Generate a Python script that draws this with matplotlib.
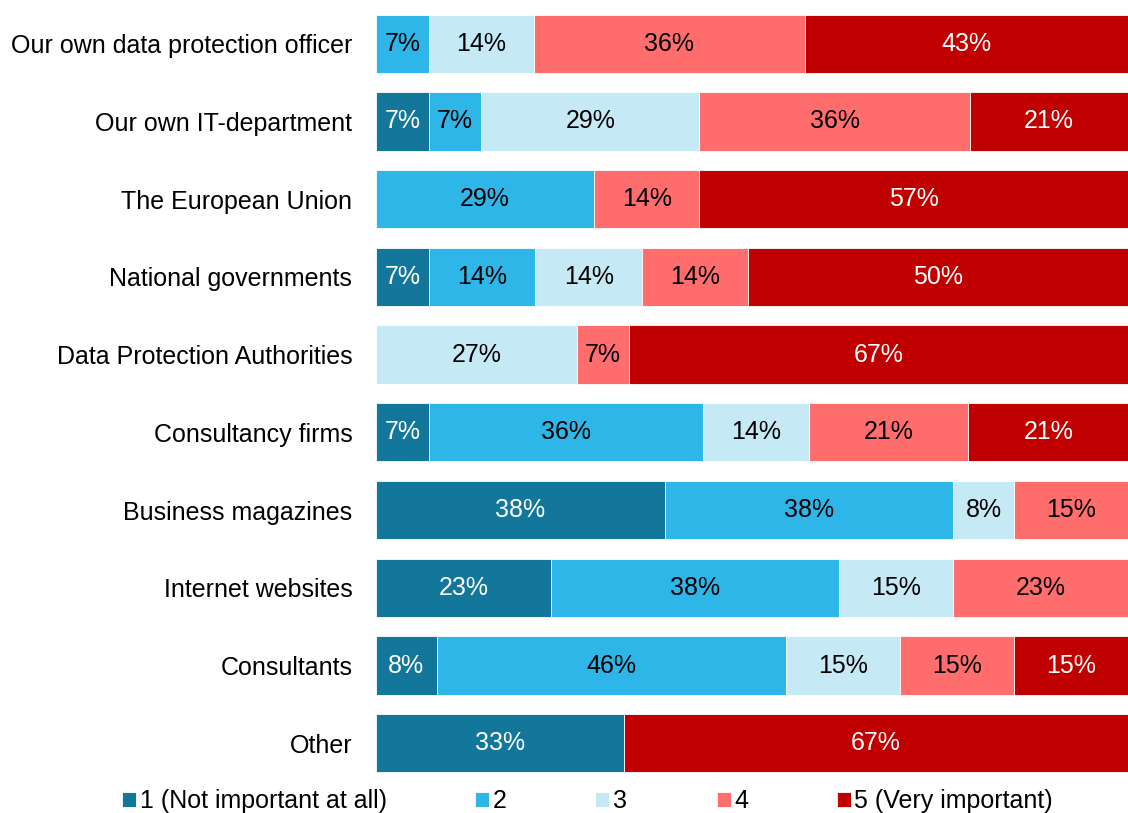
import matplotlib
matplotlib.use("Agg")
import matplotlib.pyplot as plt
import numpy as np

plt.rcParams['font.family'] = ['Liberation Sans', 'DejaVu Sans']

# sources, top to bottom
sources = [
    "Our own data protection officer",
    "Our own IT-department",
    "The European Union",
    "National governments",
    "Data Protection Authorities",
    "Consultancy firms",
    "Business magazines",
    "Internet websites",
    "Consultants",
    "Other",
]

# share of answers per importance level (%)
lvl1 = [0, 7, 0, 7, 0, 7, 38, 23, 8, 33]
lvl2 = [7, 7, 29, 14, 0, 36, 38, 38, 46, 0]
lvl3 = [14, 29, 0, 14, 27, 14, 8, 15, 15, 0]
lvl4 = [36, 36, 14, 14, 7, 21, 15, 23, 15, 0]
lvl5 = [43, 21, 57, 50, 67, 21, 0, 0, 15, 67]

levels = ["1 (Not important at all)", "2", "3", "4", "5 (Very important)"]
colors = ["#13779B", "#2EB6E8", "#C6E9F6", "#FF6D6D", "#C00000"]
text_colors = ["white", "black", "black", "black", "white"]

data = np.array([lvl1, lvl2, lvl3, lvl4, lvl5], dtype=float)
# rounded shares don't always add to 100, so scale each row to full width
shares = data / data.sum(axis=0) * 100

fig = plt.figure(figsize=(11.28, 8.13), dpi=100)
ax = fig.add_axes([0.3333, 0.038, 0.6667, 0.956])

y = np.arange(len(sources))
left = np.zeros(len(sources))
bars = []
for i in range(len(levels)):
    b = ax.barh(y, shares[i], left=left, height=0.75, color=colors[i],
                edgecolor="white", linewidth=0.6, label=levels[i])
    bars.append(b)
    for j, v in enumerate(data[i]):
        if v > 0:
            ax.text(left[j] + shares[i][j] / 2, y[j], f"{v:.0f}%", ha="center",
                    va="center", fontsize=18, color=text_colors[i])
    left += shares[i]

ax.set_xlim(0, 100)
ax.set_ylim(len(sources) - 0.5, -0.5)
ax.set_yticks(y)
ax.set_yticklabels(sources, fontsize=18)
ax.tick_params(axis="y", length=0, pad=17)
ax.set_xticks([])
for s in ax.spines.values():
    s.set_visible(False)

# legend entries laid out along the bottom
legend_x = [122, 475, 595, 717, 837]
for i in range(len(levels)):
    fig.legend([bars[i]], [levels[i]], loc="center left",
               bbox_to_anchor=(legend_x[i] / 1128, 1 - 801 / 813),
               frameon=False, fontsize=18, handlelength=0.55, handleheight=0.55,
               handletextpad=0.15, borderpad=0, borderaxespad=0)

fig.savefig("out.png", dpi=100)
